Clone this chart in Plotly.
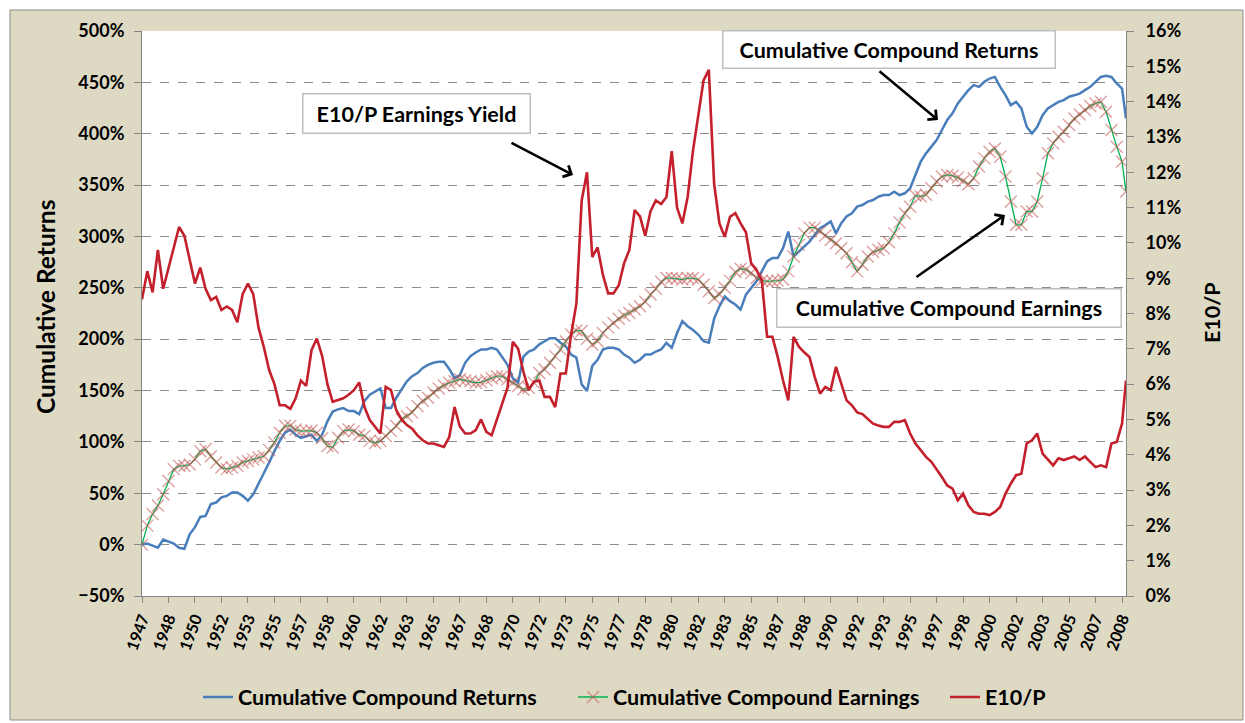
import pandas as pd
import plotly.graph_objects as go

# ---------------- data (sampled every 4 months, Jan 1947 .. Sep 2008, plus Dec 2008) ----------------
dates = list(pd.date_range("1947-01-01", "2008-09-01", freq="4MS").strftime("%Y-%m")) + ["2008-12"]

cum_returns = [
    0, 1, -1, -3, 5, 3, 1, -3, -4, 10,
    17, 27, 28, 39.5, 41, 46, 47.5, 50.7, 50.7, 47.5,
    42.7, 49, 58.9, 70, 80, 91, 100.9, 109, 112, 107,
    104, 105.5, 107, 100.9, 107, 120, 129.5, 131.7, 133, 130,
    130, 127, 140, 146, 149, 152, 133, 133, 143, 151,
    159, 164, 167, 172, 175, 177, 178, 178, 171, 162,
    165, 177, 183.5, 187, 190, 190, 191.6, 190, 182, 175,
    162, 157.6, 183, 188, 190, 195, 198, 201, 201, 196.5,
    193, 185, 182, 156, 149.5, 174, 180, 190, 191.6, 191.6,
    190, 185, 182, 177, 180, 185, 185, 188, 190, 196.5,
    191.6, 206, 217.5, 212.6, 209, 204.5, 198, 196.5, 220, 232,
    241.6, 237, 233.7, 228.8, 243.3, 249.8, 256.3, 266, 275.7, 279,
    279, 288.6, 304.8, 280.5, 285.4, 290, 295, 301.6, 308, 311,
    314.6, 303, 313, 319.4, 322.6, 329, 330.6, 333.9, 335.5, 338.7,
    340.3, 340.3, 343.5, 340.3, 342, 347, 359, 372.8, 380.9, 387.4,
    393.8, 403.6, 413.3, 419.8, 429.5, 436, 442.4, 447.3, 445.6, 450.5,
    453.7, 455.3, 445.6, 437.5, 427.8, 431, 424.6, 406.8, 400.3, 406.8,
    418, 424.6, 427.8, 431, 432.7, 436, 437.5, 439, 442.4, 445.6,
    450.5, 455.3, 456.3, 455.3, 448.9, 444, 415,
]

cum_earnings = [
    0, 18.5, 29.8, 38, 49, 62, 73.5, 76.7, 76.7, 78,
    83, 91, 92.9, 86, 80, 75, 73.5, 75, 76.7, 80,
    81.5, 83, 84.8, 86, 92, 99.5, 109, 115.7, 115.7, 112,
    110.5, 110.5, 111, 109, 103.5, 96, 94.5, 104, 110.5, 112,
    110.5, 107, 105.8, 101, 99, 101, 105.8, 110.5, 115.5, 122,
    125, 128.5, 135, 140, 143, 148, 152, 155, 157.6, 159,
    161, 160, 159, 157.6, 158, 160, 162, 164, 164, 161,
    157.6, 154.4, 151, 152.7, 157.6, 167, 170.5, 177, 183.5, 190,
    198, 204.5, 208.5, 208, 200.5, 194.8, 198, 206, 211.5, 215.8,
    220, 223, 225.5, 228.8, 232, 236.4, 243.4, 249, 256, 259.5,
    259.5, 259, 258, 259.5, 259.5, 258, 253, 246.6, 240, 243.4,
    250, 257, 265.4, 268.6, 267.6, 264.4, 259.5, 257, 256.3, 256.3,
    257, 258, 266, 280.5, 291.8, 303, 308.6, 308.6, 304.8, 301,
    296.6, 293.4, 288.6, 283.7, 275, 266, 272.5, 280.5, 284.8, 287,
    288.6, 294.4, 303, 313.7, 322.4, 328.9, 339.8, 338.8, 340.5, 347,
    353.4, 358.3, 359.9, 359.2, 357.3, 354, 350.8, 356.6, 368, 376,
    382.5, 385.7, 377.6, 358.3, 334, 311.3, 311.3, 324.3, 324.3, 334,
    356.6, 380.9, 390.6, 397, 401.9, 408.4, 414.9, 418.8, 423, 426.9,
    429.5, 431.1, 421.4, 403.6, 387.4, 372.8, 343.7,
]

e10p = [
    8.4, 9.2, 8.6, 9.8, 8.7, 9.3, 9.9, 10.45, 10.2, 9.5,
    8.85, 9.3, 8.7, 8.38, 8.47, 8.1, 8.2, 8.1, 7.75, 8.55,
    8.85, 8.55, 7.6, 7.05, 6.4, 6.0, 5.4, 5.4, 5.3, 5.6,
    6.1, 5.95, 6.96, 7.29, 6.8, 6.0, 5.5, 5.55, 5.6, 5.7,
    5.83, 6.05, 5.35, 4.98, 4.8, 4.6, 5.92, 5.83, 5.26, 5.0,
    4.84, 4.74, 4.55, 4.41, 4.32, 4.32, 4.27, 4.22, 4.5, 5.35,
    4.8, 4.6, 4.6, 4.7, 5.0, 4.65, 4.55, 5.0, 5.5, 5.9,
    7.2, 7.0, 6.35, 5.83, 6.07, 6.1, 5.64, 5.64, 5.35, 6.3,
    6.3, 7.4, 8.28, 11.2, 12.0, 9.6, 9.87, 9.1, 8.57, 8.57,
    8.8, 9.42, 9.8, 10.93, 10.75, 10.2, 10.9, 11.2, 11.1, 11.3,
    12.6, 11.0, 10.55, 11.3, 12.6, 13.67, 14.6, 14.9, 11.68, 10.55,
    10.17, 10.74, 10.84, 10.55, 10.3, 9.42, 9.23, 8.95, 7.34, 7.34,
    6.77, 6.11, 5.54, 7.34, 7.06, 6.9, 6.77, 6.2, 5.73, 5.92,
    5.83, 6.49, 6.0, 5.54, 5.4, 5.2, 5.15, 5.0, 4.88, 4.83,
    4.79, 4.79, 4.93, 4.93, 4.98, 4.6, 4.32, 4.13, 3.94, 3.8,
    3.6, 3.37, 3.13, 3.04, 2.71, 2.9, 2.57, 2.38, 2.33, 2.33,
    2.29, 2.38, 2.52, 2.9, 3.18, 3.42, 3.46, 4.32, 4.41, 4.6,
    4.03, 3.85, 3.7, 3.9, 3.85, 3.9, 3.95, 3.85, 3.95, 3.8,
    3.65, 3.7, 3.65, 4.32, 4.36, 4.88, 6.1,
]

tick_years = ["1947", "1948", "1950", "1952", "1953", "1955", "1957", "1958", "1960",
              "1962", "1963", "1965", "1967", "1968", "1970", "1972", "1973", "1975",
              "1977", "1978", "1980", "1982", "1983", "1985", "1987", "1988", "1990",
              "1992", "1993", "1995", "1997", "1998", "2000", "2002", "2003", "2005",
              "2007", "2008"]

# month index of each observation (category position, one category per month)
months = [(int(d[:4]) - 1947) * 12 + int(d[5:7]) - 1 for d in dates]
tick_pos = [i * 20 for i in range(len(tick_years))]

# ---------------- styling ----------------
FONT = "Lato, 'Open Sans', sans-serif"
W, H = 1245, 723
PL, PR, PT, PB = 142, 1126, 31, 596  # plot area in pixels


def px_x(p):
    return (p - PL) / (PR - PL)


def px_y(p):
    return (PB - p) / (PB - PT)


fig = go.Figure()

fig.add_trace(go.Scatter(
    x=months, y=cum_returns, mode="lines", name="Cumulative Compound Returns",
    line=dict(color="#4A7EBB", width=2.5), legend="legend",
))
fig.add_trace(go.Scatter(
    x=months, y=cum_earnings, mode="lines+markers", name="Cumulative Compound Earnings",
    line=dict(color="#00B050", width=1.3),
    marker=dict(symbol="x-thin", size=12, color="rgba(192,80,77,0.55)",
                line=dict(width=1.4, color="rgba(192,80,77,0.55)")),
    legend="legend2",
))
fig.add_trace(go.Scatter(
    x=months, y=e10p, mode="lines", name="E10/P", yaxis="y2",
    line=dict(color="#C3202B", width=2.6), legend="legend3",
))

tickfont = dict(family=FONT, size=18, color="#000000", weight="bold")
legend_font = dict(family=FONT, size=21.5, color="#000000", weight="bold")


def legend_at(px):
    return dict(orientation="h", x=px_x(px), xanchor="left", y=px_y(697), yanchor="middle",
                font=legend_font, bgcolor="rgba(0,0,0,0)", itemwidth=30, borderwidth=0)


fig.update_layout(
    width=W, height=H,
    margin=dict(l=PL, r=W - PR, t=PT, b=H - PB, autoexpand=False),
    paper_bgcolor="white", plot_bgcolor="white",
    font=dict(family=FONT, color="#000000"),
    showlegend=True,
    legend=legend_at(198),
    legend2=legend_at(573),
    legend3=legend_at(945),
    xaxis=dict(
        range=[0, 743], tickmode="array", tickvals=tick_pos, ticktext=tick_years,
        tickangle=-70, ticks="outside", ticklen=6, tickcolor="#868686",
        showline=True, linecolor="#868686", linewidth=1,
        showgrid=False, zeroline=False, automargin=False,
        tickfont=dict(family=FONT, size=16, color="#000000", weight="bold"),
    ),
    yaxis=dict(
        range=[-50, 500], tick0=0, dtick=50, ticksuffix="%",
        ticks="outside", ticklen=7, tickcolor="#868686",
        showline=True, linecolor="#868686", linewidth=1,
        showgrid=True, gridcolor="#8C8C8C", griddash="dash", gridwidth=1,
        zeroline=False, tickfont=tickfont, ticklabelstandoff=6, automargin=False,
    ),
    yaxis2=dict(
        range=[0, 16], tick0=0, dtick=1, ticksuffix="%", overlaying="y", side="right",
        ticks="outside", ticklen=7, tickcolor="#868686",
        showline=True, linecolor="#868686", linewidth=1,
        showgrid=False, zeroline=False, tickfont=tickfont, ticklabelstandoff=8,
        automargin=False,
    ),
    shapes=[
        dict(type="rect", xref="paper", yref="paper", layer="below",
             x0=px_x(10), x1=px_x(1243), y0=px_y(720), y1=px_y(10),
             fillcolor="#DDD9C3", line=dict(color="#8E8E8E", width=1)),
        dict(type="rect", xref="paper", yref="paper", layer="below",
             x0=0, x1=1, y0=0, y1=1, fillcolor="white", line=dict(width=0)),
    ],
)

box_font = dict(family=FONT, size=21.5, color="#000000", weight="bold")
annotations = [
    # axis titles
    dict(text="Cumulative Returns", x=px_x(45), y=px_y(307), xref="paper", yref="paper",
         xanchor="center", yanchor="middle", textangle=-90, showarrow=False,
         font=dict(family=FONT, size=24.5, color="#000000", weight="bold")),
    dict(text="E10/P", x=px_x(1212), y=px_y(313), xref="paper", yref="paper",
         xanchor="center", yanchor="middle", textangle=-90, showarrow=False,
         font=dict(family=FONT, size=21.5, color="#000000", weight="bold")),
    # callout boxes
    dict(text="E10/P Earnings Yield", x=px_x(416), y=px_y(113), xref="paper", yref="paper",
         xanchor="center", yanchor="middle",
         showarrow=False, font=box_font, bgcolor="white", bordercolor="#BFBFBF",
         borderwidth=1.5, borderpad=1, width=224, height=36),
    dict(text="Cumulative Compound Returns", x=px_x(888.5), y=px_y(50), xref="paper", yref="paper",
         xanchor="center", yanchor="middle",
         showarrow=False, font=box_font, bgcolor="white", bordercolor="#BFBFBF",
         borderwidth=1.5, borderpad=1, width=329, height=34),
    dict(text="Cumulative Compound Earnings", x=px_x(948.5), y=px_y(307.5), xref="paper", yref="paper",
         xanchor="center", yanchor="middle",
         showarrow=False, font=box_font, bgcolor="white", bordercolor="#BFBFBF",
         borderwidth=1.5, borderpad=1, width=341, height=35),
    # arrows
    dict(text="", x=px_x(573), y=px_y(175), xref="paper", yref="paper", showarrow=True,
         ax=-63, ay=-33, arrowhead=4, arrowsize=1, arrowwidth=2.5, arrowcolor="#000000"),
    dict(text="", x=px_x(938), y=px_y(120), xref="paper", yref="paper", showarrow=True,
         ax=-60, ay=-50, arrowhead=4, arrowsize=1, arrowwidth=2.5, arrowcolor="#000000"),
    dict(text="", x=px_x(1005), y=px_y(215), xref="paper", yref="paper", showarrow=True,
         ax=-90, ay=63, arrowhead=4, arrowsize=1, arrowwidth=2.5, arrowcolor="#000000"),
]
fig.update_layout(annotations=annotations)

page_fix = (
    "document.documentElement.style.margin='0';"
    "document.documentElement.style.overflow='hidden';"
    "document.body.style.margin='0';"
    "document.body.style.overflow='hidden';"
    "document.querySelectorAll('.plotly-graph-div').forEach(function(d){d.style.overflow='hidden';});"
)

fig.write_html("out.html", config={"displayModeBar": False}, post_script=page_fix)
